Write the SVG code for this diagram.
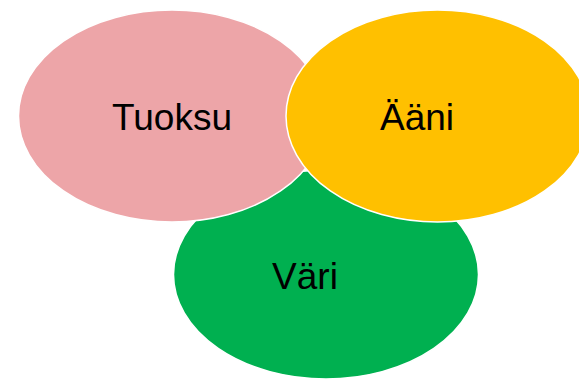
<svg xmlns="http://www.w3.org/2000/svg" width="579" height="379" viewBox="0 0 579 379">
<style>
.n{stroke:#fff;stroke-width:1.5}
.t{font-family:"Liberation Sans",Arial,sans-serif;font-size:37px;fill:#000;text-anchor:middle}
</style>
<rect width="579" height="379" fill="#fff"/>
<g id="connectors"/>
<g id="vari"><ellipse class="n" cx="326" cy="274.5" rx="152.5" ry="104.5" fill="#00B050"/><text class="t" x="305" y="289">Väri</text></g>
<g id="tuoksu"><ellipse class="n" cx="172" cy="116" rx="153.5" ry="106" fill="#EDA5A8"/><text class="t" x="172" y="130">Tuoksu</text></g>
<g id="aani"><ellipse class="n" cx="437.5" cy="116" rx="151.5" ry="106" fill="#FFC000"/><text class="t" x="417" y="130">Ääni</text></g>
</svg>
